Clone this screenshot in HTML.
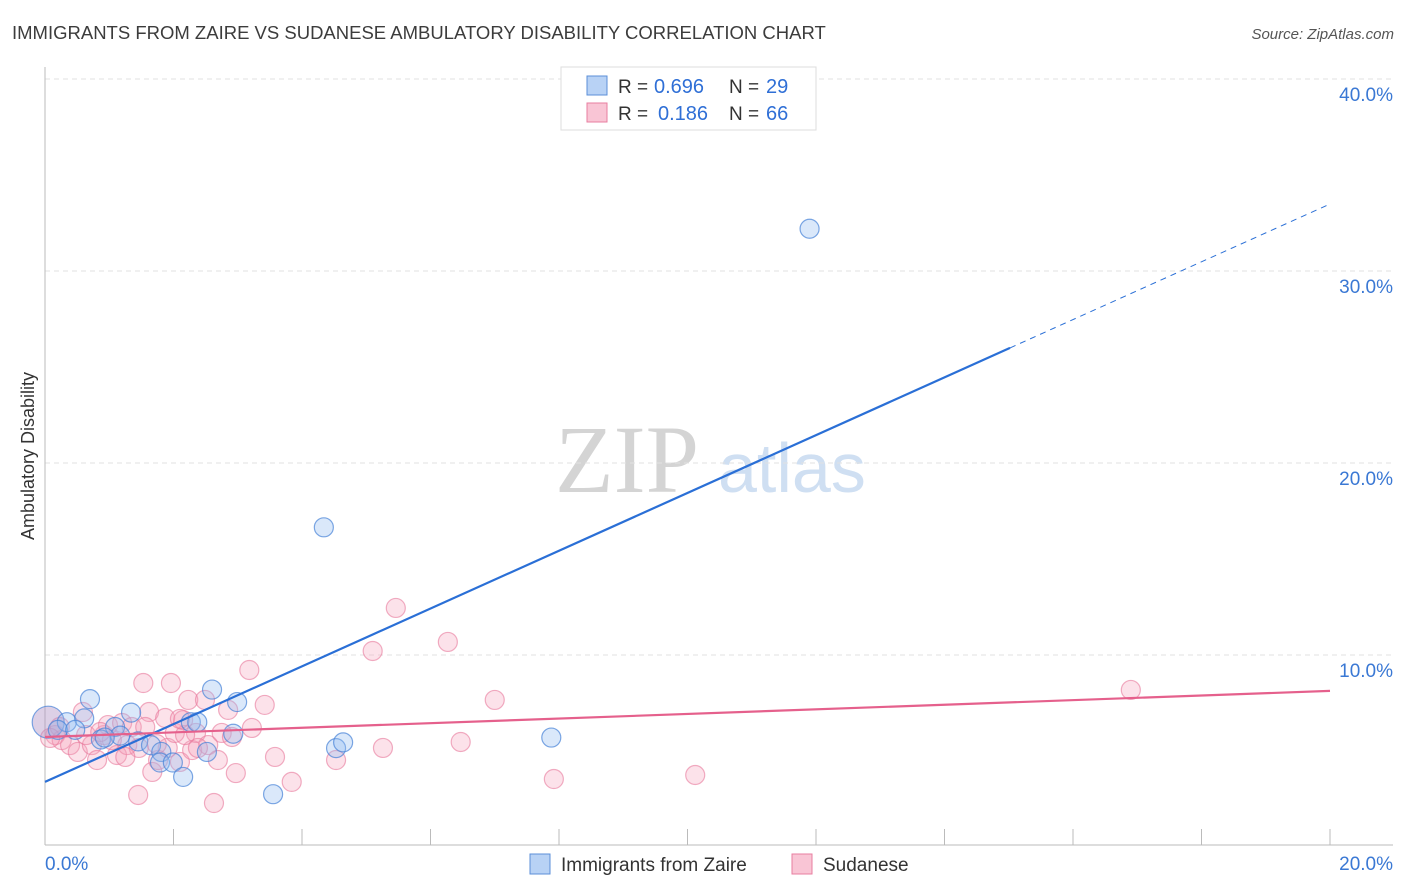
<!DOCTYPE html>
<html><head><meta charset="utf-8"><style>
body{margin:0;background:#fff;font-family:"Liberation Sans",sans-serif;}
svg{display:block}
</style></head><body>
<svg id="chart" width="1406" height="892">
<text x="12" y="39" font-size="18.5" fill="#3c3c3c">IMMIGRANTS FROM ZAIRE VS SUDANESE AMBULATORY DISABILITY CORRELATION CHART</text>
<text x="1394" y="39" font-size="15" fill="#555" text-anchor="end" font-style="italic">Source: ZipAtlas.com</text>
<text x="34" y="456" font-size="18" fill="#333" text-anchor="middle" transform="rotate(-90 34 456)">Ambulatory Disability</text>
<g><text x="555" y="492" font-size="96" fill="#d4d4d4" font-family="Liberation Serif,serif">ZIP</text><text x="718" y="492" font-size="70" fill="#cfdff2">atlas</text></g>
<g id="grid"></g><g id="axes"></g><g id="marks"></g>
<g>
<rect x="561" y="67" width="255" height="63" fill="#fff" stroke="#ddd"/>
<rect x="587" y="76" width="20" height="19" fill="#b8d2f5" stroke="#5b8fd8"/>
<rect x="587" y="103" width="20" height="19" fill="#f9c5d5" stroke="#e87ea0"/>
<text x="618" y="93" font-size="19" fill="#333">R =</text>
<text x="654" y="93" font-size="20" fill="#2f6fd6">0.696</text>
<text x="729" y="93" font-size="19" fill="#333">N =</text>
<text x="766" y="93" font-size="20" fill="#2f6fd6">29</text>
<text x="618" y="120" font-size="19" fill="#333">R =</text>
<text x="658" y="120" font-size="20" fill="#2f6fd6">0.186</text>
<text x="729" y="120" font-size="19" fill="#333">N =</text>
<text x="766" y="120" font-size="20" fill="#2f6fd6">66</text>
</g>
<g>
<rect x="530" y="854" width="20" height="20" fill="#b8d2f5" stroke="#5b8fd8"/>
<text x="561" y="871" font-size="19" fill="#333">Immigrants from Zaire</text>
<rect x="792" y="854" width="20" height="20" fill="#f9c5d5" stroke="#e87ea0"/>
<text x="823" y="871" font-size="19" fill="#333">Sudanese</text>
</g>
</svg>
<script>
const blueX=[0.05,0.34,0.61,0.70,0.87,1.09,1.34,1.45,1.65,1.81,1.79,1.99,2.15,2.27,2.37,2.52,2.60,2.99,2.93,3.55,4.34,4.53,4.64,7.88,11.9,0.2,0.47,1.17,0.93];
const blueY=[6.5,6.5,6.7,7.7,5.6,6.25,7.0,5.5,5.3,4.95,4.4,4.4,3.65,6.5,6.5,4.95,8.2,7.55,5.9,2.75,16.65,5.15,5.45,5.7,32.2,6.1,6.1,5.8,5.7];
const pinkX=[0.16,0.26,0.39,0.51,0.59,0.73,0.81,0.92,0.98,1.12,1.20,1.28,1.35,1.46,1.53,1.62,1.67,1.76,1.87,1.91,1.96,2.02,2.10,2.15,2.23,2.29,2.35,2.49,2.54,2.63,2.69,2.75,2.91,2.97,3.18,3.22,3.42,3.58,3.84,4.53,5.10,5.26,5.46,6.27,6.47,7.00,7.92,10.12,16.90,1.45,0.23,0.64,1.04,1.25,1.74,2.18,2.38,2.85,0.86,0.08,2.10,1.56];
const pinkY=[5.83,5.57,5.31,4.95,7.03,5.31,4.53,5.83,6.35,4.79,6.46,5.31,6.25,5.16,8.54,7.03,3.91,4.53,6.72,5.16,8.54,5.94,4.43,6.61,7.66,5.05,5.94,7.66,5.31,2.29,4.53,5.94,5.73,3.85,9.22,6.2,7.40,4.69,3.39,4.53,10.21,5.16,12.45,10.68,5.47,7.66,3.54,3.75,8.18,2.71,6.25,5.83,5.57,4.69,5.36,5.83,5.16,7.14,5.99,5.68,6.67,6.25];
const yTicks=[10,20,30,40];
const xTickLabels=["0.0%","20.0%"];
const blueFit=[3.39,1.505,15.02];
const pinkFit=[5.73,0.12];
const NS="http://www.w3.org/2000/svg";
const X=v=>45+v/20*1285, Y=v=>847-v*19.2;
function mk(p,t,a){const e=document.createElementNS(NS,t);for(const k in a)e.setAttribute(k,a[k]);p.appendChild(e);return e;}
const grid=document.getElementById('grid'),axes=document.getElementById('axes'),marks=document.getElementById('marks');
yTicks.forEach(t=>{
 const l=mk(grid,'line',{x1:45,x2:1393,y1:Y(t),y2:Y(t),stroke:'#e2e2e2','stroke-dasharray':'5,4'});
 
 
 const tx=mk(axes,'text',{x:1393,y:Y(t)+22,'font-size':19,fill:'#3a78d4','text-anchor':'end'});tx.textContent=t.toFixed(1)+'%';
 
 
});
const ya=mk(axes,'line',{x1:45,x2:45,y1:67,y2:845,stroke:'#bbb'});


const xa=mk(axes,'line',{x1:45,x2:1393,y1:845,y2:845,stroke:'#bbb'});


for(let i=0;i<=10;i++){const t=mk(axes,'line',{x1:X(i*2),x2:X(i*2),y1:829,y2:845,stroke:'#bbb'});
 
 }
[[0,'start',45],[20,'end',1393]].forEach((d,i)=>{const t=mk(axes,'text',{x:d[2],y:870,'font-size':19,fill:'#3a78d4','text-anchor':d[1]});t.textContent=xTickLabels[i];
 
 });
pinkX.forEach((x,i)=>{const c=mk(marks,'circle',{cx:X(x),cy:Y(pinkY[i]),r:9.5,fill:'rgba(245,160,185,0.3)',stroke:'rgba(232,120,155,0.6)','stroke-width':1.2});
 
 });
blueX.forEach((x,i)=>{const c=mk(marks,'circle',{cx:X(x),cy:Y(blueY[i]),r:i===0?16:9.5,fill:i===0?'rgba(180,150,200,0.45)':'rgba(150,190,240,0.35)',stroke:'rgba(70,130,215,0.7)','stroke-width':1.2});
 
 });
const bl=mk(marks,'line',{x1:X(0),y1:Y(blueFit[0]),x2:X(blueFit[2]),y2:Y(blueFit[0]+blueFit[1]*blueFit[2]),stroke:'#2a6fd6','stroke-width':2.2});


const bd=mk(marks,'line',{x1:X(blueFit[2]),y1:Y(blueFit[0]+blueFit[1]*blueFit[2]),x2:X(20),y2:Y(blueFit[0]+blueFit[1]*20),stroke:'#2a6fd6','stroke-width':1,'stroke-dasharray':'6,5'});


const pl=mk(marks,'line',{x1:X(0),y1:Y(pinkFit[0]),x2:X(20),y2:Y(pinkFit[0]+pinkFit[1]*20),stroke:'#e5608c','stroke-width':2.2});


</script>
</body></html>
